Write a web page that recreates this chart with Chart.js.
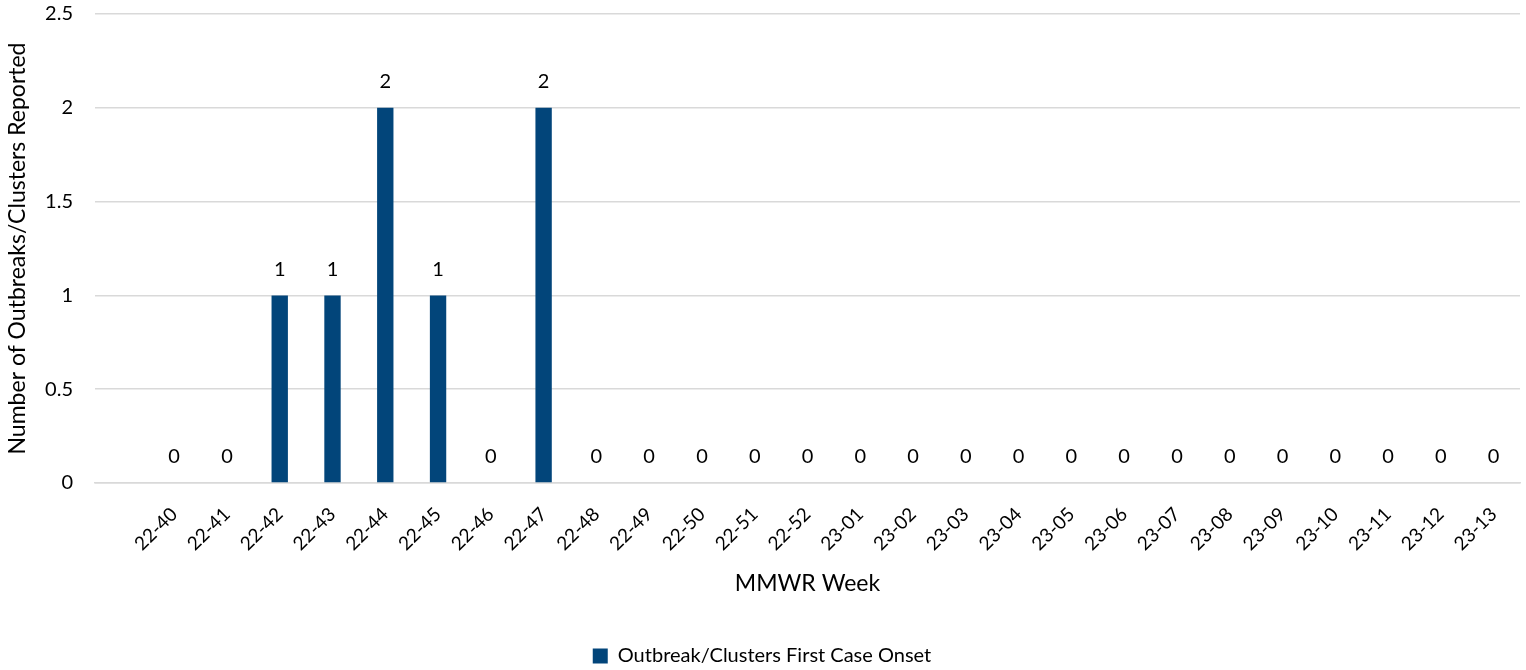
<!DOCTYPE html>
<html>
<head>
<meta charset="utf-8">
<script src="https://cdn.jsdelivr.net/npm/chart.js@4"></script>
<style>
  html, body { margin: 0; padding: 0; background: #fff; }
  #wrap { width: 1526px; height: 670px; }
</style>
</head>
<body>
<div id="wrap"><canvas id="brotes"></canvas></div>
<script>
// first slot is a blank category, as in the source sheet
const weeks = ["", "22-40", "22-41", "22-42", "22-43", "22-44", "22-45", "22-46", "22-47", "22-48",
  "22-49", "22-50", "22-51", "22-52", "23-01", "23-02", "23-03", "23-04", "23-05", "23-06",
  "23-07", "23-08", "23-09", "23-10", "23-11", "23-12", "23-13"];
const outbreaks = [null, 0, 0, 1, 1, 2, 1, 0, 2, 0,
  0, 0, 0, 0, 0, 0, 0, 0, 0, 0,
  0, 0, 0, 0, 0, 0, 0];
const yTicks = [0, 0.5, 1, 1.5, 2, 2.5];

const fuente = "Lato, 'Open Sans', sans-serif";

// value labels above each bar
const etiquetas = {
  id: 'etiquetas',
  afterDatasetsDraw(chart) {
    const ctx = chart.ctx;
    const meta = chart.getDatasetMeta(0);
    ctx.save();
    ctx.font = "20px " + fuente;
    ctx.fillStyle = "#000";
    ctx.textAlign = "center";
    ctx.textBaseline = "middle";
    meta.data.forEach((bar, i) => {
      const v = outbreaks[i];
      if (v === null || v === undefined) return;
      ctx.fillText(String(v), bar.x, bar.y - 26);
    });
    ctx.restore();
  }
};

new Chart(document.getElementById("brotes"), {
  type: 'bar',
  data: {
    labels: weeks,
    datasets: [{
      label: "Outbreak/Clusters First Case Onset",
      data: outbreaks,
      backgroundColor: "#02457A",
      borderWidth: 0,
      categoryPercentage: 1,
      barPercentage: 0.31
    }]
  },
  options: {
    responsive: true,
    maintainAspectRatio: false,
    animation: false,
    layout: { padding: { left: 4, right: 6, top: 0, bottom: -6 } },
    plugins: {
      legend: {
        position: 'bottom',
        labels: {
          font: { size: 20, family: fuente },
          color: "#000",
          boxWidth: 15,
          boxHeight: 15,
          padding: 3
        }
      },
      tooltip: { enabled: false }
    },
    scales: {
      x: {
        grid: { display: false },
        border: { display: true, color: "#d9d9d9", width: 1.5 },
        ticks: {
          color: "#000",
          font: { size: 19, family: fuente },
          minRotation: 45,
          maxRotation: 45,
          autoSkip: false,
          padding: 12
        },
        title: {
          display: true,
          text: "MMWR Week",
          color: "#000",
          font: { size: 23, family: fuente },
          padding: { top: 6, bottom: 46 }
        },
        afterFit(scale) { scale.height = 160; }
      },
      y: {
        min: 0,
        max: 2.5,
        afterBuildTicks(scale) { scale.ticks = yTicks.map(v => ({ value: v })); },
        grid: { color: "#d9d9d9", lineWidth: 1.5, drawTicks: true, tickLength: 20, tickColor: "rgba(0,0,0,0)" },
        border: { display: false },
        ticks: {
          color: "#000",
          font: { size: 20, family: fuente },
          padding: 2,
          callback: (v) => String(v)
        },
        title: {
          display: true,
          text: "Number of Outbreaks/Clusters Reported",
          color: "#000",
          font: { size: 23, family: fuente },
          padding: { top: 0, bottom: 6 }
        },
        afterFit(scale) { scale.width = 91; }
      }
    }
  },
  plugins: [etiquetas]
});
</script>
</body>
</html>
